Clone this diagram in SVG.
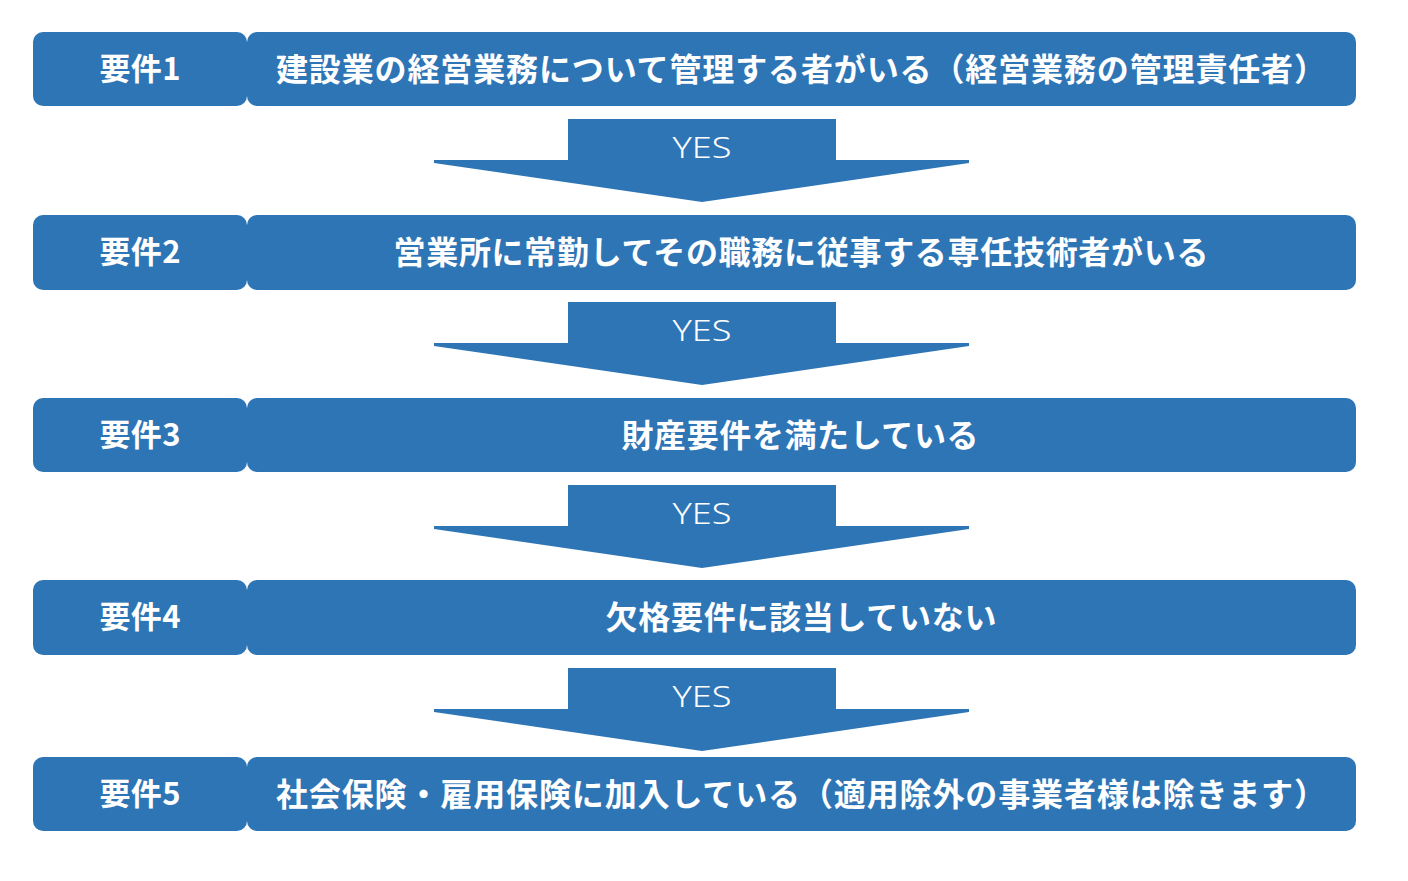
<svg xmlns="http://www.w3.org/2000/svg" width="1408" height="881" viewBox="0 0 1408 881">
<style>
.box{fill:#2E75B6;}
.lbl{font-family:"Noto Sans CJK JP","Noto Sans",sans-serif;font-weight:700;font-size:31px;fill:#fff;text-anchor:middle;dominant-baseline:central;}
.main{font-family:"Noto Sans CJK JP","Noto Sans",sans-serif;font-weight:700;font-size:32px;fill:#fff;text-anchor:middle;dominant-baseline:central;}
.yes{font-family:"Noto Sans","Open Sans",sans-serif;font-weight:300;font-size:30px;fill:#fff;text-anchor:middle;dominant-baseline:central;}
</style>
<defs>
<polygon id="arr" class="box" points="568,0 836,0 836,41 969,41 969,44 702,83 434,44 434,41 568,41"/>
</defs>
<rect width="1408" height="881" fill="#fff"/>
<g id="connectors">
<use href="#arr" y="119"/>
<text class="yes" x="702" y="146" textLength="59" lengthAdjust="spacingAndGlyphs">YES</text>
<use href="#arr" y="302"/>
<text class="yes" x="702" y="329" textLength="59" lengthAdjust="spacingAndGlyphs">YES</text>
<use href="#arr" y="485"/>
<text class="yes" x="702" y="512" textLength="59" lengthAdjust="spacingAndGlyphs">YES</text>
<use href="#arr" y="668"/>
<text class="yes" x="702" y="695" textLength="59" lengthAdjust="spacingAndGlyphs">YES</text>
</g>
<g id="req1">
<rect class="box" x="33" y="32" width="214" height="74" rx="10"/>
<rect class="box" x="247" y="32" width="1109" height="74" rx="10"/>
<text class="lbl" x="140" y="66" textLength="81" lengthAdjust="spacing">要件1</text>
<text class="main" x="801" y="67" textLength="1050" lengthAdjust="spacing">建設業の経営業務について管理する者がいる（経営業務の管理責任者）</text>
</g>
<g id="req2">
<rect class="box" x="33" y="215" width="214" height="75" rx="10"/>
<rect class="box" x="247" y="215" width="1109" height="75" rx="10"/>
<text class="lbl" x="140" y="249" textLength="81" lengthAdjust="spacing">要件2</text>
<text class="main" x="801" y="250" textLength="815" lengthAdjust="spacing">営業所に常勤してその職務に従事する専任技術者がいる</text>
</g>
<g id="req3">
<rect class="box" x="33" y="398" width="214" height="74" rx="10"/>
<rect class="box" x="247" y="398" width="1109" height="74" rx="10"/>
<text class="lbl" x="140" y="432" textLength="81" lengthAdjust="spacing">要件3</text>
<text class="main" x="800" y="433" textLength="357" lengthAdjust="spacing">財産要件を満たしている</text>
</g>
<g id="req4">
<rect class="box" x="33" y="580" width="214" height="75" rx="10"/>
<rect class="box" x="247" y="580" width="1109" height="75" rx="10"/>
<text class="lbl" x="140" y="614" textLength="81" lengthAdjust="spacing">要件4</text>
<text class="main" x="801" y="615" textLength="391" lengthAdjust="spacing">欠格要件に該当していない</text>
</g>
<g id="req5">
<rect class="box" x="33" y="757" width="214" height="74" rx="10"/>
<rect class="box" x="247" y="757" width="1109" height="74" rx="10"/>
<text class="lbl" x="140" y="791" textLength="81" lengthAdjust="spacing">要件5</text>
<text class="main" x="801" y="792" textLength="1050" lengthAdjust="spacing">社会保険・雇用保険に加入している（適用除外の事業者様は除きます）</text>
</g>
</svg>
